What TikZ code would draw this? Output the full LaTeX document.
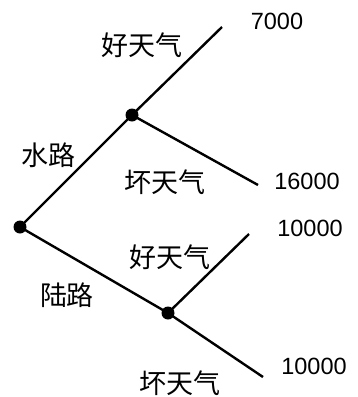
\documentclass[tikz,border=0pt]{standalone}
\usepackage{fontspec}
\setmainfont{Liberation Sans}
\newfontfamily\cjk{Noto Sans CJK SC}
\begin{document}
\begin{tikzpicture}[x=1pt,y=-1pt,
  dotnode/.style={circle,fill=black,inner sep=0pt,minimum size=13pt},
  branch/.style={line width=2.4pt,black},
  cjklabel/.style={font=\cjk\fontsize{27}{27}\selectfont,inner sep=0pt},
  numlabel/.style={font=\fontsize{23.5}{23.5}\selectfont,inner sep=0pt}]
\useasboundingbox (0,0) rectangle (358,397);
\node[dotnode] (root) at (20,227) {};
\node[dotnode] (water) at (132,115) {};
\node[dotnode] (land) at (168,313) {};
\coordinate (wg) at (222,27);
\coordinate (wb) at (258,185);
\coordinate (lg) at (249,234);
\coordinate (lb) at (263,377);
\draw[branch] (root.center) -- (water.center);
\draw[branch] (root.center) -- (land.center);
\draw[branch] (water.center) -- (wg);
\draw[branch] (water.center) -- (wb);
\draw[branch] (land.center) -- (lg);
\draw[branch] (land.center) -- (lb);
\node[numlabel] (n1) at (277,21) {7000};
\node[numlabel] (n2) at (307,181) {16000};
\node[numlabel] (n3) at (310,228) {10000};
\node[numlabel] (n4) at (314,366) {10000};
\node[cjklabel] (t1) at (142,45) {好天气};
\node[cjklabel] (t2) at (48,155) {水路};
\node[cjklabel] (t3) at (165,182) {坏天气};
\node[cjklabel] (t4) at (170,257) {好天气};
\node[cjklabel] (t5) at (67,295) {陆路};
\node[cjklabel] (t6) at (180,383) {坏天气};
\end{tikzpicture}
\end{document}
